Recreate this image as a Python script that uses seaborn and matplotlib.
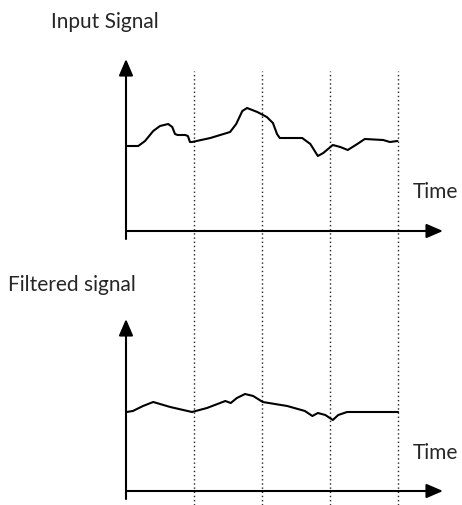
import numpy as np
import matplotlib
matplotlib.use("Agg")
import matplotlib.pyplot as plt
import seaborn as sns

# time positions of the dotted markers
marker_times = [1, 2, 3, 4]

# input signal (time, amplitude)
input_t = [0.01, 0.18, 0.28, 0.40, 0.50, 0.62, 0.68, 0.72, 0.76, 0.87, 0.91, 0.94, 0.97,
           1.24, 1.53, 1.62, 1.71, 1.78, 1.93, 2.07, 2.16, 2.22, 2.26, 2.59, 2.71, 2.82,
           2.90, 3.04, 3.15, 3.26, 3.40, 3.51, 3.78, 3.88, 3.99]
input_v = [4.25, 4.25, 4.5, 5.0, 5.25, 5.35, 5.2, 4.85, 4.8, 4.8, 4.75, 4.45, 4.45,
           4.65, 4.95, 5.35, 6.0, 6.15, 5.95, 5.7, 5.4, 4.85, 4.65, 4.65, 4.35, 3.75,
           3.9, 4.3, 4.2, 4.05, 4.35, 4.6, 4.55, 4.45, 4.5]

# filtered signal (time, amplitude)
filt_t = [0.01, 0.10, 0.25, 0.40, 0.65, 0.97, 1.19, 1.46, 1.54, 1.63, 1.75, 1.87, 2.01,
          2.37, 2.63, 2.74, 2.82, 2.93, 3.04, 3.12, 3.25, 3.69, 4.0]
filt_v = [3.95, 4.0, 4.25, 4.45, 4.2, 3.95, 4.15, 4.5, 4.4, 4.65, 4.85, 4.75, 4.45,
          4.25, 4.0, 3.75, 3.9, 3.8, 3.55, 3.8, 3.95, 3.95, 3.95]

titles = ["Input Signal", "Filtered signal"]
x_label = "Time"

sns.set_style("white")
plt.rcParams["font.family"] = ["Lato", "DejaVu Sans"]

W, H = 462, 506
fig = plt.figure(figsize=(W / 100, H / 100), dpi=100)

left = 126 / W
width = 317 / W
xmax = 4.66
ymin, ymax = -0.4, 8.6

# dotted time markers running through both panels
ax_bg = fig.add_axes([left, 0, width, 1])
ax_bg.set_xlim(0, xmax)
ax_bg.set_ylim(0, 1)
ax_bg.vlines(marker_times, 0, 1 - 72 / H, colors="#222222", linestyles=(0, (1, 2)), lw=1)
ax_bg.axis("off")

panels = [(60, input_t, input_v), (320, filt_t, filt_v)]
axes = []
for top_px, t, v in panels:
    ax = fig.add_axes([left, 1 - (top_px + 180) / H, width, 180 / H])
    ax.set_xlim(0, xmax)
    ax.set_ylim(ymin, ymax)
    ax.patch.set_alpha(0)
    sns.lineplot(x=t, y=v, ax=ax, color="black", lw=1.5, sort=False)
    arrow = dict(arrowstyle="-|>,head_length=1.0,head_width=0.43", mutation_scale=10,
                 color="black", lw=1.5, shrinkA=0, shrinkB=0)
    ax.annotate("", xy=(xmax, 0), xytext=(0, 0), arrowprops=arrow, annotation_clip=False)
    ax.annotate("", xy=(0, ymax), xytext=(0, ymin), arrowprops=arrow, annotation_clip=False)
    ax.axis("off")
    axes.append(ax)

fs = 15
fig.text(51 / W, 1 - 22 / H, titles[0], fontsize=fs, va="center", ha="left")
fig.text(8 / W, 1 - 285 / H, titles[1], fontsize=fs, va="center", ha="left")
fig.text(413 / W, 1 - 192 / H, x_label, fontsize=fs, va="center", ha="left")
fig.text(413 / W, 1 - 453 / H, x_label, fontsize=fs, va="center", ha="left")

fig.savefig("out.png", dpi=100)
